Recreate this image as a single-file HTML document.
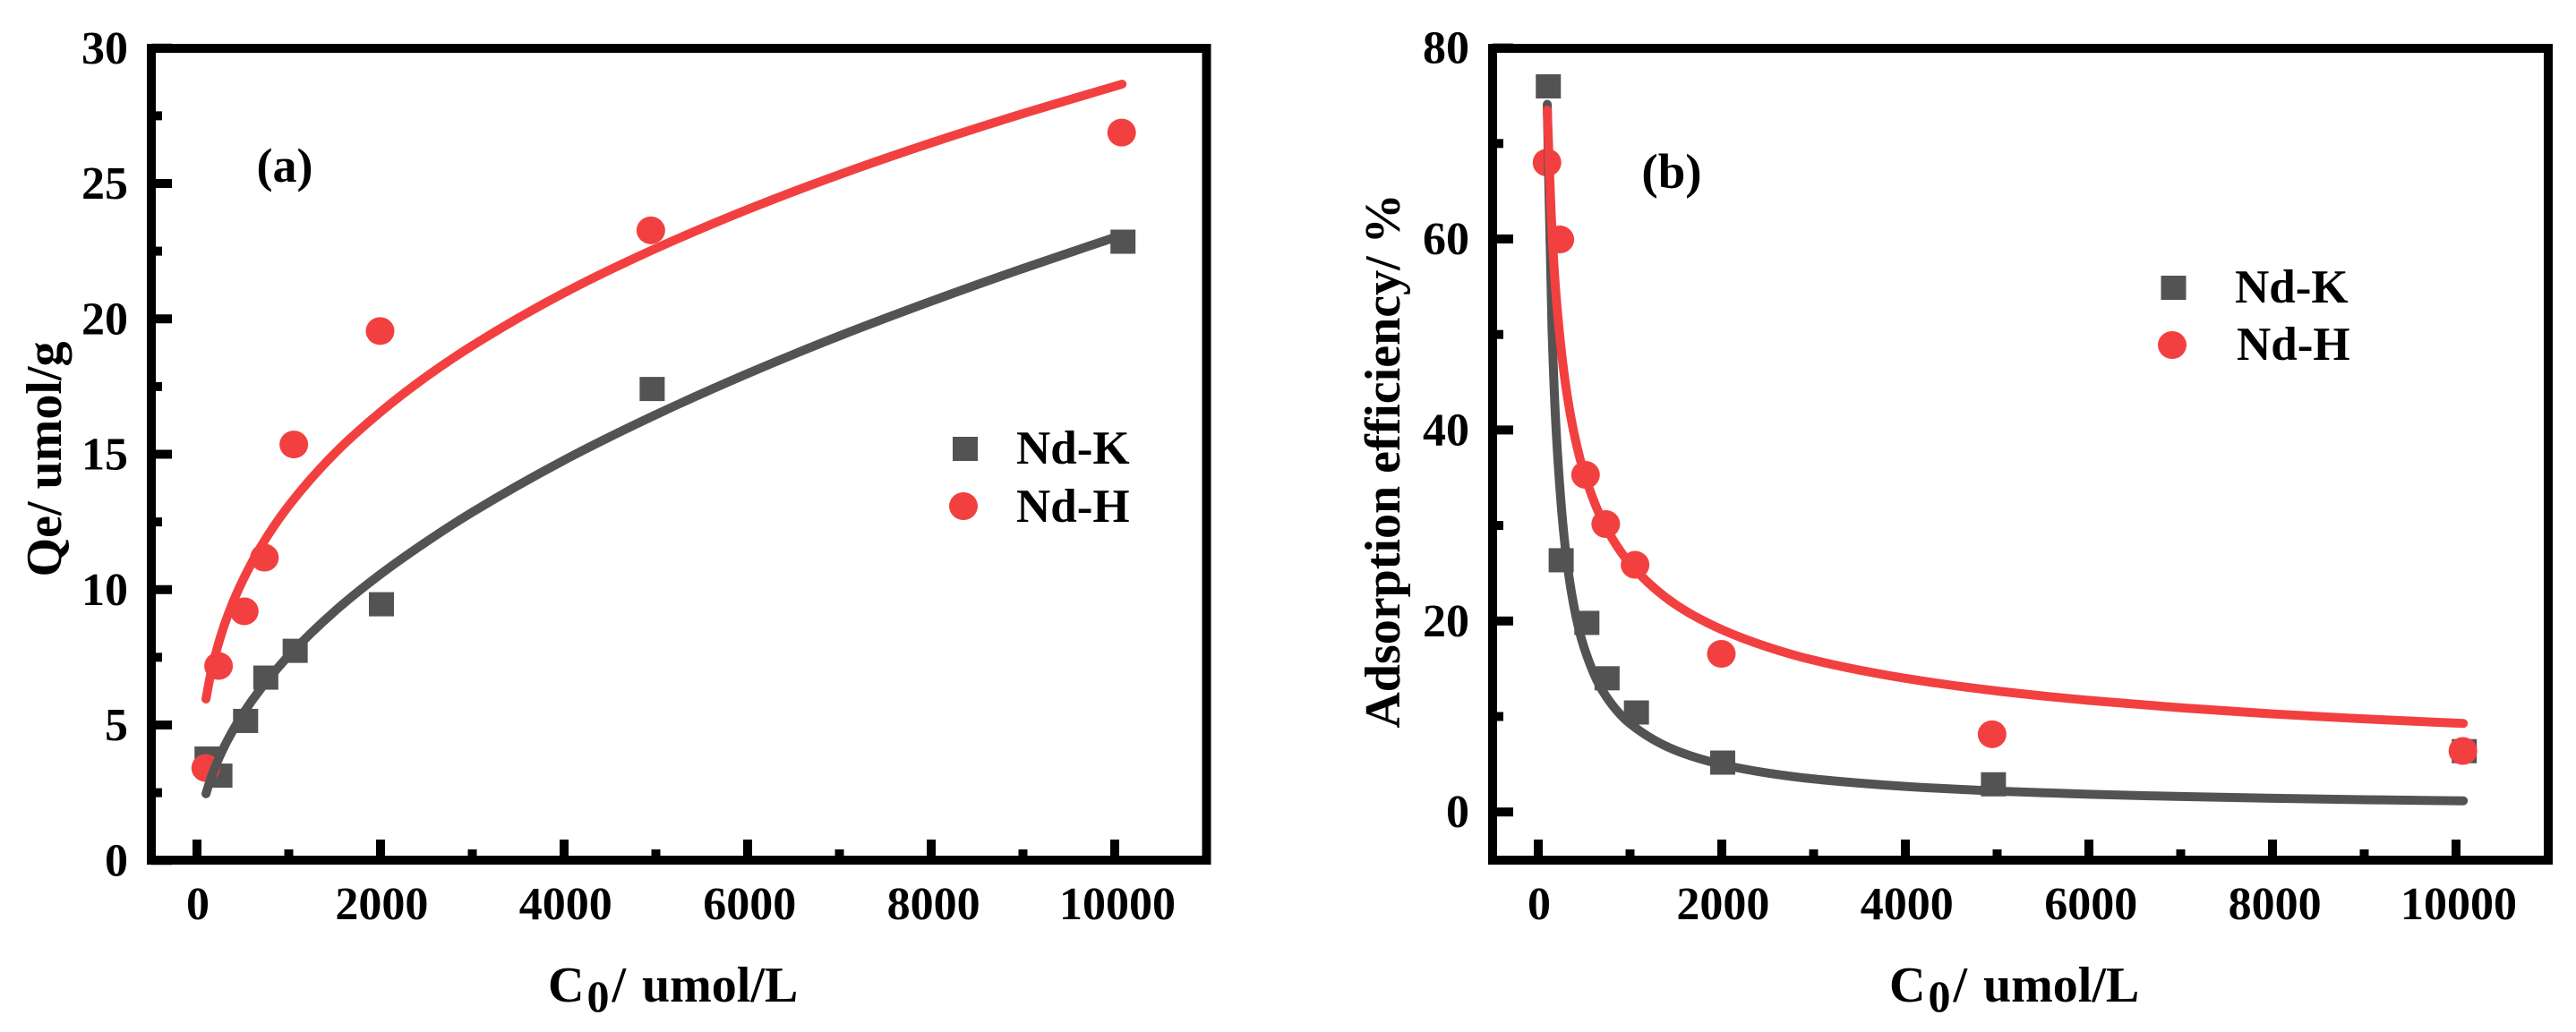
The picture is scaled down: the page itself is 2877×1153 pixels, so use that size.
<!DOCTYPE html>
<html lang="en">
<head>
<meta charset="utf-8">
<title>Nd adsorption charts</title>
<style>
html,body{margin:0;padding:0;background:#fff;}
svg{display:block;}
text{font-family:"Liberation Serif",serif;font-weight:bold;fill:#000;}
</style>
</head>
<body>
<svg id="figure" xmlns="http://www.w3.org/2000/svg" width="2877" height="1153" viewBox="0 0 2877 1153">
  <rect x="0" y="0" width="2877" height="1153" fill="#ffffff"/>

  <g id="panel-a">
    <text x="318" y="203" font-size="54" text-anchor="middle">(a)</text>
    <text x="612" y="1119" font-size="56">C<tspan dx="3" dy="11" font-size="50">0</tspan><tspan dx="3" dy="-11">/</tspan><tspan dx="4"> umol/L</tspan></text>
    <text transform="translate(68 513) rotate(-90)" font-size="56" text-anchor="middle">Qe/ umol/g</text>
    <rect x="1064" y="488" width="28" height="27" fill="#535353"/>
    <ellipse cx="1076" cy="565.5" rx="16" ry="15.5" fill="#f24040"/>
    <text x="1135" y="518" font-size="53">Nd-K</text>
    <text x="1135" y="583" font-size="53">Nd-H</text>
  </g>

  <g id="panel-b">
    <text x="1867" y="210" font-size="55" text-anchor="middle">(b)</text>
    <text x="2110" y="1119" font-size="56">C<tspan dx="3" dy="11" font-size="50">0</tspan><tspan dx="3" dy="-11">/</tspan><tspan dx="4"> umol/L</tspan></text>
    <text transform="translate(1563 515) rotate(-90)" font-size="56" text-anchor="middle">Adsorption efficiency/ %</text>
    <rect x="2413.5" y="308" width="28" height="27" fill="#535353"/>
    <ellipse cx="2426" cy="385.5" rx="16" ry="15.5" fill="#f24040"/>
    <text x="2496" y="338" font-size="53">Nd-K</text>
    <text x="2498" y="402" font-size="53">Nd-H</text>
  </g>
</svg>

<script>
// ---- shared categories ----
var concentrations = [100, 240, 520, 740, 1060, 2000, 4950, 10080];
var curveConcentrations = [98, 150, 200, 300, 400, 500, 700, 1000, 1500, 2000, 2500, 3000, 4000, 5000, 6000, 7000, 8000, 9000, 10080];
var xMajorTicks = [0, 2000, 4000, 6000, 8000, 10000];
var xMinorTicks = [1000, 3000, 5000, 7000, 9000];

// ---- panel (a): Qe ----
var qeNdK = [3.76, 3.13, 5.15, 6.75, 7.74, 9.46, 17.41, 22.85];
var qeNdH = [3.41, 7.18, 9.2, 11.18, 15.36, 19.55, 23.27, 26.88];
var qeCurveNdK = [2.46, 3.02, 3.47, 4.22, 4.85, 5.41, 6.36, 7.56, 9.2, 10.57, 11.77, 12.86, 14.78, 16.46, 17.98, 19.37, 20.65, 21.86, 23.1];
var qeCurveNdH = [5.96, 6.89, 7.59, 8.71, 9.6, 10.35, 11.61, 13.1, 15.03, 16.56, 17.87, 19.01, 20.96, 22.6, 24.04, 25.33, 26.5, 27.58, 28.67];
var qeMajorTicks = [0, 5, 10, 15, 20, 25, 30];
var qeMinorTicks = [2.5, 7.5, 12.5, 17.5, 22.5, 27.5];

// ---- panel (b): adsorption efficiency ----
var effNdK = [75.98, 26.36, 19.8, 14.0, 10.42, 5.17, 2.9, 6.37];
var effNdH = [68.0, 59.95, 35.3, 30.15, 25.88, 16.56, 8.14, 6.39];
var effCurveNdK = [74.1, 50.6, 39.1, 27.2, 21.0, 17.2, 12.7, 9.26, 6.44, 4.98, 4.08, 3.46, 2.68, 2.19, 1.86, 1.62, 1.44, 1.29, 1.17];
var effCurveNdH = [73.5, 60.8, 53.4, 44.6, 39.2, 35.5, 30.5, 26.0, 21.7, 19.1, 17.28, 15.9, 14.0, 12.67, 11.69, 10.91, 10.27, 9.75, 9.27];
var effMajorTicks = [0, 20, 40, 60, 80];
var effMinorTicks = [10, 30, 50, 70];

var SVG_NS = 'http://www.w3.org/2000/svg';
var GRAY = '#535353';
var RED = '#f24040';

function make(tag, attrs) {
  var el = document.createElementNS(SVG_NS, tag);
  for (var k in attrs) { el.setAttribute(k, attrs[k]); }
  return el;
}

// Monotone (PCHIP) cubic through pixel points with increasing x.
function smoothPath(pts) {
  var n = pts.length, h = [], s = [], m = [], i;
  for (i = 0; i < n - 1; i++) {
    h[i] = pts[i + 1][0] - pts[i][0];
    s[i] = (pts[i + 1][1] - pts[i][1]) / h[i];
  }
  m[0] = s[0];
  m[n - 1] = s[n - 2];
  for (i = 1; i < n - 1; i++) {
    if (s[i - 1] * s[i] <= 0) {
      m[i] = 0;
    } else {
      var w1 = 2 * h[i] + h[i - 1], w2 = h[i] + 2 * h[i - 1];
      m[i] = (w1 + w2) / (w1 / s[i - 1] + w2 / s[i]);
    }
  }
  var d = 'M' + pts[0][0].toFixed(2) + ' ' + pts[0][1].toFixed(2);
  for (i = 0; i < n - 1; i++) {
    var c1x = pts[i][0] + h[i] / 3, c1y = pts[i][1] + m[i] * h[i] / 3;
    var c2x = pts[i + 1][0] - h[i] / 3, c2y = pts[i + 1][1] - m[i + 1] * h[i] / 3;
    d += 'C' + c1x.toFixed(2) + ' ' + c1y.toFixed(2) + ' ' + c2x.toFixed(2) + ' ' + c2y.toFixed(2) + ' ' + pts[i + 1][0].toFixed(2) + ' ' + pts[i + 1][1].toFixed(2);
  }
  return d;
}

function drawPanel(root, id, xScale, yScale, frame, yMajor, yMinor, kPts, hPts, kCurve, hCurve) {
  // draw order: squares, circles, gray curve, red curve
  var i, el;
  var first = root.firstChild;
  var layer = make('g', {});
  
  
  root.insertBefore(layer, first);

  for (i = 0; i < concentrations.length; i++) {
    el = make('rect', {
      x: xScale(concentrations[i]) + 1 - 14,
      y: yScale(kPts[i]) - 13.5,
      width: 28, height: 27, fill: GRAY
    });
    
    
    layer.appendChild(el);
  }
  for (i = 0; i < concentrations.length; i++) {
    el = make('ellipse', {
      cx: xScale(concentrations[i]) - 0.5,
      cy: yScale(hPts[i]),
      rx: 16, ry: 15.5, fill: RED
    });
    
    
    layer.appendChild(el);
  }

  var kLine = make('path', {
    d: smoothPath(curveConcentrations.map(function (c, j) { return [xScale(c), yScale(kCurve[j])]; })),
    fill: 'none', stroke: GRAY, 'stroke-width': 10, 'stroke-linecap': 'round', 'stroke-linejoin': 'round'
  });
  
  
  layer.appendChild(kLine);

  var hLine = make('path', {
    d: smoothPath(curveConcentrations.map(function (c, j) { return [xScale(c), yScale(hCurve[j])]; })),
    fill: 'none', stroke: RED, 'stroke-width': 10, 'stroke-linecap': 'round', 'stroke-linejoin': 'round'
  });
  
  
  layer.appendChild(hLine);

  // frame
  var box = make('rect', {
    x: frame.left, y: frame.top, width: frame.right - frame.left, height: frame.bottom - frame.top,
    fill: 'none', stroke: '#000', 'stroke-width': 10
  });
  
  
  layer.appendChild(box);

  // x ticks
  xMajorTicks.forEach(function (v) {
    var t = make('rect', { x: xScale(v) - 5, y: frame.bottom - 23, width: 10, height: 23, fill: '#000' });
    
    
    layer.appendChild(t);
    var label = make('text', { x: xScale(v) + 1 + v * 0.0002, y: 1027, 'font-size': 52, 'text-anchor': 'middle' });
    
    
    label.textContent = String(v);
    layer.appendChild(label);
  });
  xMinorTicks.forEach(function (v) {
    var t = make('rect', { x: xScale(v) - 5, y: frame.bottom - 12, width: 10, height: 12, fill: '#000' });
    
    
    layer.appendChild(t);
  });

  // y ticks
  yMajor.forEach(function (v) {
    var t = make('rect', { x: frame.left, y: yScale(v) - 5, width: 23, height: 10, fill: '#000' });
    
    
    layer.appendChild(t);
    var label = make('text', { x: frame.left - 26, y: yScale(v) + 17, 'font-size': 52, 'text-anchor': 'end' });
    
    
    label.textContent = String(v);
    layer.appendChild(label);
  });
  yMinor.forEach(function (v) {
    var t = make('rect', { x: frame.left, y: yScale(v) - 5, width: 12, height: 10, fill: '#000' });
    
    
    layer.appendChild(t);
  });
}

function xA(v) { return 220 + 0.1025 * v; }
function yA(v) { return 961.25 - 30.25 * v; }
function xB(v) { return 1718 + 0.1025 * v; }
function yB(v) { return 907.2 - 10.67 * v; }

drawPanel(document.getElementById('panel-a'), 'panel-a', xA, yA,
  { left: 169, right: 1347.5, top: 54, bottom: 961 },
  qeMajorTicks, qeMinorTicks, qeNdK, qeNdH, qeCurveNdK, qeCurveNdH);

drawPanel(document.getElementById('panel-b'), 'panel-b', xB, yB,
  { left: 1667, right: 2846, top: 54, bottom: 961 },
  effMajorTicks, effMinorTicks, effNdK, effNdH, effCurveNdK, effCurveNdH);
</script>
</body>
</html>
